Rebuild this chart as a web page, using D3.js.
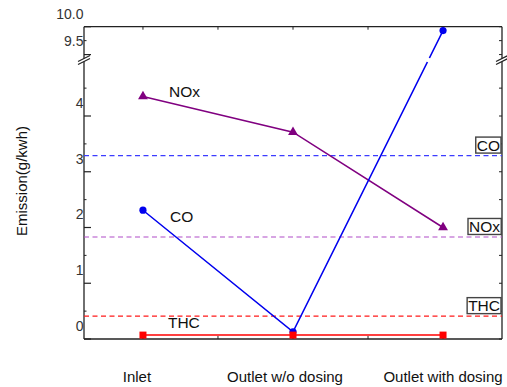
<!DOCTYPE html>
<html><head><meta charset="utf-8">
<script src="https://cdn.jsdelivr.net/npm/d3@7"></script>
<style>body{margin:0;background:#fff}svg{display:block;font-family:"Liberation Sans",Arial,sans-serif}</style>
</head><body>
<svg id="c" width="507" height="387"></svg>
<script>
const categories = ["Inlet", "Outlet w/o dosing", "Outlet with dosing"];
const seriesNames = ["NOx", "CO", "THC"];
const noxValues = [4.35, 3.71, 2.00];
const coValues = [2.31, 0.13, 9.93];
const thcValues = [0.07, 0.07, 0.07];
const limitNames = ["CO", "NOx", "THC"];
const limitValues = [3.29, 1.83, 0.41];
const lowerTicks = [0, 1, 2, 3, 4];
const lowerMinor = [0.5, 1.5, 2.5, 3.5, 4.5];
const upperTicks = [9.5, 10.0];
const upperMinor = [9.75];
const yTitle = "Emission(g/kwh)";

const svg = d3.select("#c");
const L = 84, R = 502, T = 26.7, B = 339;
const pxPerUnit = 55.75;
const breakY = 60;

const x = d3.scalePoint().domain(categories).range([L, R]).padding(0.393);
const yLow = d3.scaleLinear().domain([0, 1]).range([B, B - pxPerUnit]);
const yUp = d3.scaleLinear().domain([10, 9.5]).range([T, T + 0.5 * pxPerUnit]);
const y = v => v >= 9.5 ? yUp(v) : yLow(v);

const axisCol = "#222";
const g = svg.append("g");

// frame
g.append("line").attr("x1", L).attr("x2", R).attr("y1", T).attr("y2", T).attr("stroke", axisCol).attr("stroke-width", 1.3);
g.append("line").attr("x1", L).attr("x2", R).attr("y1", B).attr("y2", B).attr("stroke", axisCol).attr("stroke-width", 1.3);
g.append("line").attr("x1", L).attr("x2", L).attr("y1", T).attr("y2", B).attr("stroke", axisCol).attr("stroke-width", 1.3);
g.append("line").attr("x1", R).attr("x2", R).attr("y1", T).attr("y2", B).attr("stroke", axisCol).attr("stroke-width", 1.3);

// break marks
[L, R].forEach(ax => {
  g.append("polygon").attr("points", `${ax-6},${breakY+1.5} ${ax+6},${breakY-4.5} ${ax+6},${breakY-1.5} ${ax-6},${breakY+4.5}`).attr("fill", "#fff");
  g.append("line").attr("x1", ax-6).attr("y1", breakY+1.5).attr("x2", ax+6).attr("y2", breakY-4.5).attr("stroke", axisCol).attr("stroke-width", 1.2);
  g.append("line").attr("x1", ax-6).attr("y1", breakY+4.5).attr("x2", ax+6).attr("y2", breakY-1.5).attr("stroke", axisCol).attr("stroke-width", 1.2);
});

// y ticks
const majors = lowerTicks.map(v => yLow(v)).concat(upperTicks.map(v => yUp(v)));
const minors = lowerMinor.map(v => yLow(v)).concat(upperMinor.map(v => yUp(v)));
majors.forEach(py => {
  g.append("line").attr("x1", L).attr("x2", L + 7).attr("y1", py).attr("y2", py).attr("stroke", axisCol).attr("stroke-width", 1.2);
  g.append("line").attr("x1", R).attr("x2", R - 3).attr("y1", py).attr("y2", py).attr("stroke", axisCol).attr("stroke-width", 1);
});
minors.forEach(py => {
  g.append("line").attr("x1", L).attr("x2", L + 2.5).attr("y1", py).attr("y2", py).attr("stroke", axisCol).attr("stroke-width", 1);
  g.append("line").attr("x1", R).attr("x2", R - 3).attr("y1", py).attr("y2", py).attr("stroke", axisCol).attr("stroke-width", 1);
});
// y tick labels (offset above the ticks as in the original)
lowerTicks.forEach(v => g.append("text").attr("x", L - 0.5).attr("y", yLow(v) - 13).attr("dy", "0.35em")
  .attr("text-anchor", "end").attr("font-size", 14).attr("fill", "#333").text(d3.format("d")(v)));
upperTicks.forEach(v => g.append("text").attr("x", L - 0.5).attr("y", yUp(v) - 13).attr("dy", "0.35em")
  .attr("text-anchor", "end").attr("font-size", 14).attr("fill", "#333").text(d3.format(".1f")(v)));

// x ticks (every half category)
const step = x.step();
const xt = [];
categories.forEach((c, i) => { xt.push(x(c)); if (i < categories.length - 1) xt.push(x(c) + step / 2); });
xt.forEach(px => {
  g.append("line").attr("x1", px).attr("x2", px).attr("y1", B).attr("y2", B - 3).attr("stroke", axisCol).attr("stroke-width", 1);
  g.append("line").attr("x1", px).attr("x2", px).attr("y1", T).attr("y2", T + 3).attr("stroke", axisCol).attr("stroke-width", 1);
});
const xLabelDx = [-6, -8, 0];
categories.forEach((c, i) => g.append("text").attr("x", x(c) + xLabelDx[i]).attr("y", 382)
  .attr("text-anchor", "middle").attr("font-size", 15).attr("fill", "#111").text(c));

// y title
g.append("text").attr("transform", "translate(27,181) rotate(-90)").attr("text-anchor", "middle")
  .attr("font-size", 15).attr("fill", "#111").text(yTitle);

// limit lines
const limitColors = ["#3c3cff", "#b04cc8", "#ff1a1a"];
limitValues.forEach((v, i) => {
  g.append("line").attr("x1", L).attr("x2", R).attr("y1", yLow(v)).attr("y2", yLow(v))
    .attr("stroke", limitColors[i]).attr("stroke-width", 1.1).attr("stroke-dasharray", "5,3.5");
  const t = g.append("text").attr("x", R - 2).attr("y", yLow(v) - 5).attr("text-anchor", "end")
    .attr("font-size", 15.5).attr("fill", "#111").text(limitNames[i]);
  const bb = t.node().getBBox();
  g.insert("rect", () => t.node()).attr("x", bb.x - 1).attr("y", bb.y + 0.5).attr("width", bb.width + 2).attr("height", bb.height - 1)
    .attr("fill", "#fff").attr("stroke", "#444").attr("stroke-width", 1.4);
});

// series
const seriesData = [noxValues, coValues, thcValues];
const seriesColors = ["#800080", "#0000ee", "#ff0000"];
const line = d3.line().x((d, i) => x(categories[i])).y(d => y(d));
seriesData.forEach((vals, s) => {
  g.append("path").attr("d", line(vals)).attr("fill", "none").attr("stroke", seriesColors[s]).attr("stroke-width", 1.5);
});
// gap in CO line at the axis break
{
  const x1 = x(categories[1]), y1 = y(coValues[1]), x2 = x(categories[2]), y2 = y(coValues[2]);
  const xa = x1 + (x2 - x1) * ((breakY + 2) - y1) / (y2 - y1);
  const xb = x1 + (x2 - x1) * ((breakY - 2) - y1) / (y2 - y1);
  g.append("line").attr("x1", xa).attr("y1", breakY + 2).attr("x2", xb).attr("y2", breakY - 2).attr("stroke", "#fff").attr("stroke-width", 4);
}
// markers
const tri = d3.symbol().type(d3.symbolTriangle).size(42);
noxValues.forEach((v, i) => g.append("path").attr("d", tri()).attr("transform", `translate(${x(categories[i])},${y(v)})`).attr("fill", seriesColors[0]));
coValues.forEach((v, i) => g.append("circle").attr("cx", x(categories[i])).attr("cy", y(v)).attr("r", 3.6).attr("fill", seriesColors[1]));
thcValues.forEach((v, i) => g.append("rect").attr("x", x(categories[i]) - 3.5).attr("y", y(v) - 3.5).attr("width", 7).attr("height", 7).attr("fill", seriesColors[2]));

// series labels
const labelOffsets = [[26, 1], [27, 12], [25, -7]];
seriesNames.forEach((n, s) => g.append("text").attr("x", x(categories[0]) + labelOffsets[s][0]).attr("y", y(seriesData[s][0]) + labelOffsets[s][1])
  .attr("font-size", 15.5).attr("fill", "#111").text(n));
</script>
</body></html>
